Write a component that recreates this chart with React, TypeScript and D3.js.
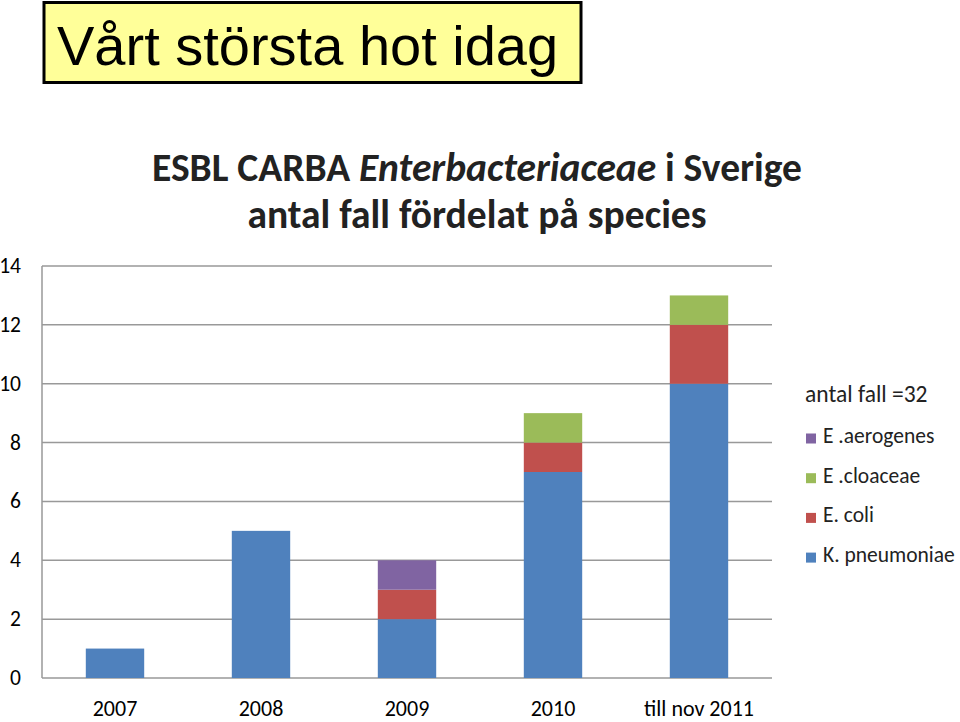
import React from "react";
import * as d3 from "d3";

const categories = ["2007", "2008", "2009", "2010", "till nov 2011"];
const kPneumoniae = [1, 5, 2, 7, 10];
const eColi = [0, 0, 1, 1, 2];
const eCloaceae = [0, 0, 0, 1, 1];
const eAerogenes = [0, 0, 1, 0, 0];
const seriesNames = ["K. pneumoniae", "E. coli", "E .cloaceae", "E .aerogenes"];
const seriesColors = ["#4F81BD", "#C0504D", "#9BBB59", "#8064A2"];
const yTicks = [0, 2, 4, 6, 8, 10, 12, 14];

const W = 960;
const H = 722;
const plot = { left: 42, right: 772, top: 266, bottom: 678 };
const calibri = "Carlito, Calibri, Lato, sans-serif";

export default function App() {
  const x = d3
    .scaleBand<string>()
    .domain(categories)
    .range([plot.left, plot.right])
    .paddingInner(0.6)
    .paddingOuter(0.3);
  const y = d3.scaleLinear().domain([0, 14]).range([plot.bottom, plot.top]);

  const rows = categories.map((c, i) => ({
    cat: c,
    s0: kPneumoniae[i],
    s1: eColi[i],
    s2: eCloaceae[i],
    s3: eAerogenes[i],
  }));
  const stack = d3.stack<any>().keys(["s0", "s1", "s2", "s3"]);
  const layers = stack(rows);

  const legendItems = [3, 2, 1, 0];

  return (
    <svg width={W} height={H} style={{ position: "absolute", left: 0, top: 0 }}>
      <rect x={0} y={0} width={W} height={H} fill="#fff" />
      {/* top title box */}
      <rect x={44} y={2.5} width={537} height={80} fill="#FFFF99" stroke="#000" strokeWidth={3} />
      <text
        x={57}
        y={64.5}
        fontFamily="'Liberation Sans', Arial, sans-serif"
        fontSize={56}
        fill="#000"
      >
        Vårt största hot idag
      </text>

      {/* chart title */}
      <text x={477} y={181} textAnchor="middle" fontFamily={calibri} fontWeight="bold" fontSize={39.5} fill="#222">
        <tspan>ESBL CARBA </tspan>
        <tspan fontStyle="italic">Enterbacteriaceae</tspan>
        <tspan> i Sverige</tspan>
      </text>
      <text x={477} y={228} textAnchor="middle" fontFamily={calibri} fontWeight="bold" fontSize={39.5} fill="#222">
        antal fall fördelat på species
      </text>

      {/* gridlines */}
      {yTicks.map((t) => (
        <line key={t} x1={plot.left} x2={plot.right} y1={y(t)} y2={y(t)} stroke="#999" strokeWidth={1.5} />
      ))}
      <line x1={plot.left} x2={plot.left} y1={plot.top} y2={plot.bottom} stroke="#999" strokeWidth={1.5} />

      {/* y tick labels */}
      {yTicks.map((t) => (
        <text key={t} x={21} y={y(t) + 7} textAnchor="end" fontFamily={calibri} fontSize={21.5} fill="#000">
          {t}
        </text>
      ))}

      {/* bars */}
      {layers.map((layer, li) =>
        layer.map((d, i) =>
          d[1] - d[0] > 0 ? (
            <rect
              key={`${li}-${i}`}
              x={x(categories[i])}
              width={x.bandwidth()}
              y={y(d[1])}
              height={y(d[0]) - y(d[1])}
              fill={seriesColors[li]}
            />
          ) : null
        )
      )}

      {/* x labels */}
      {categories.map((c) => (
        <text
          key={c}
          x={(x(c) as number) + x.bandwidth() / 2}
          y={715.5}
          textAnchor="middle"
          fontFamily={calibri}
          fontSize={22}
          fill="#000"
        >
          {c}
        </text>
      ))}

      {/* legend */}
      <text x={805} y={402} fontFamily={calibri} fontSize={23.5} fill="#222">
        antal fall =32
      </text>
      {legendItems.map((si, k) => {
        const yy = 443 + k * 39.7;
        return (
          <g key={si}>
            <rect x={806} y={yy - 9.5} width={10} height={10} fill={seriesColors[si]} />
            <text x={823} y={yy} fontFamily={calibri} fontSize={21.5} fill="#222">
              {seriesNames[si]}
            </text>
          </g>
        );
      })}
    </svg>
  );
}
